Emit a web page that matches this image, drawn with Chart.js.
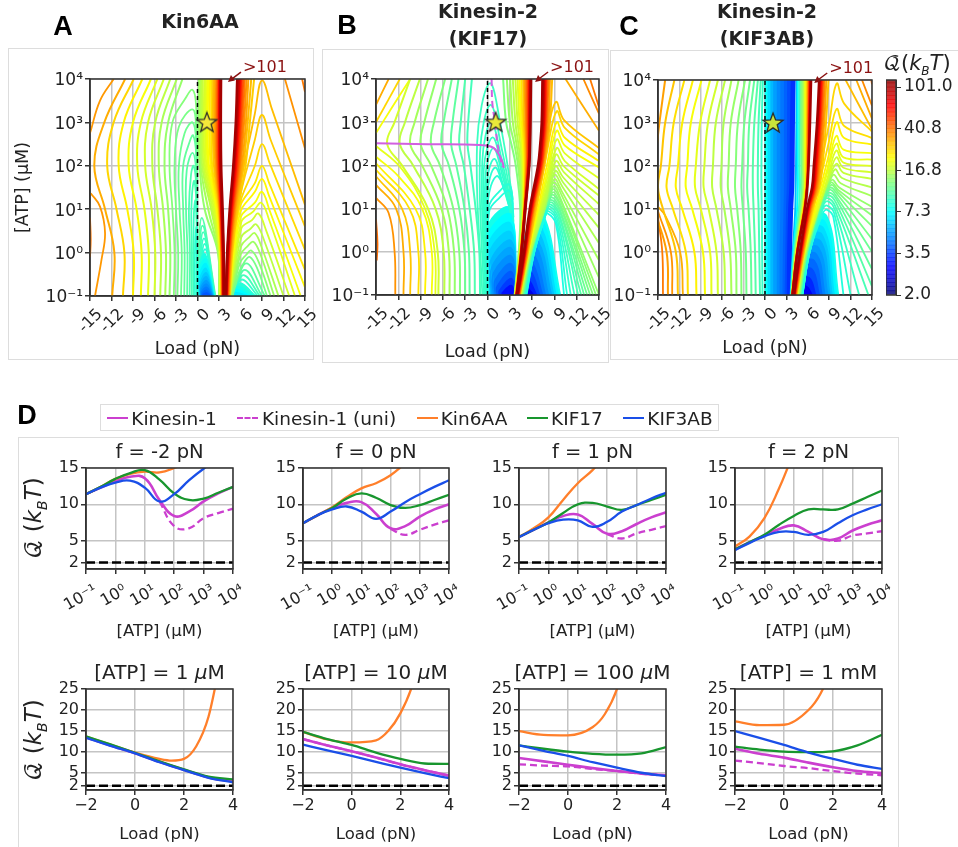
<!DOCTYPE html>
<html>
<head>
<meta charset="utf-8">
<script src="https://cdn.jsdelivr.net/npm/chart.js@4"></script>
<style>
  html, body { margin: 0; background: #fff; }
  #page { position: relative; width: 958px; height: 847px; overflow: hidden; font-family: "DejaVu Sans"; color: #222; filter: blur(0.45px); }
  #page canvas { position: absolute; }
  .txt { position: absolute; transform: translate(-50%, -50%); white-space: nowrap; }
  .box { position: absolute; border: 1px solid #ddd; box-sizing: border-box; }
  .sw { position: absolute; height: 0; width: 21px; }
</style>
</head>
<body>
<div id="page"></div>
<script>
// colorbar
const cbLevels = [2.0,2.1,2.25,2.4,2.55,2.7,2.85,3.0,3.15,3.3, 3.5,3.8,4.1,4.4,4.7,5.0,5.4,5.9,6.3,6.8,
  7.3,7.9,8.5,9.2,10,10.8,11.6,12.6,13.6,15.2, 16.8,18.3,20,21.8,23.8,26,28,31,34,37,
  40.8,45,50,55,60,66,72,79,86,93, 101,110];
const cbTickQ = [2.0, 3.5, 7.3, 16.8, 40.8, 101.0];
const cbTickLabels = ['2.0', '3.5', '7.3', '16.8', '40.8', '101.0'];

const loadTicks = [-15,-12,-9,-6,-3,0,3,6,9,12,15];
const atpTicks = [0.1,1,10,100,1000,10000];
const atpTickLabels = ['10\u207B\u00B9','10\u2070','10\u00B9','10\u00B2','10\u00B3','10\u2074'];

// contour maps. waves: [Q, load at each log10(ATP) knot]
// paths: [Q, load, logATP, load, logATP ...]   arches: [Q, left foot, peak load, peak logATP, right foot]
// basins (filled): [Q, left foot, shoulder load, shoulder logATP, peak load, peak logATP, right foot]
const knotsA = [-1,0,1,2,3,4];
const wavesA = [
  [30,-11.9,-11.6,-12.9,-14.4,-13.0,-10.1],[25,-10.4,-10.2,-11.3,-12.6,-11.7,-8.9],[22,-9.0,-8.9,-9.8,-11.0,-10.3,-7.7],
  [20,-7.9,-7.8,-8.5,-9.6,-9.0,-6.5],[18.5,-6.9,-6.8,-7.4,-8.4,-7.9,-5.6],[17,-6.0,-5.9,-6.4,-7.3,-6.9,-4.7],
  [15.5,-5.2,-5.1,-5.6,-6.3,-5.9,-3.8],[14.3,-4.5,-4.4,-4.8,-5.4,-5.0,-2.9],[13.2,-3.9,-3.8,-4.1,-4.6,-4.1,-2.1],
  [13,3.0,2.85,1.0,.3,.2,.2],[14,3.05,2.9,1.5,.45,.35,.35],[15,3.1,3.0,1.9,.65,.5,.5],[16,3.15,3.05,2.1,.85,.7,.7],
  [17,3.2,3.1,2.3,1.05,.9,.95],[18,3.22,3.13,2.5,1.25,1.1,1.15],[19,3.25,3.17,2.6,1.45,1.3,1.35],[20,3.28,3.2,2.7,1.6,1.45,1.5],
  [22,3.3,3.23,2.8,1.85,1.7,1.75],[24,3.33,3.25,2.9,2.05,1.95,2.0],[27,3.36,3.28,3.0,2.3,2.15,2.2],[30,3.4,3.32,3.05,2.5,2.35,2.4],
  [34,3.43,3.35,3.1,2.65,2.55,2.6],[38,3.46,3.38,3.15,2.75,2.7,2.75],[44,3.5,3.42,3.2,2.85,2.8,2.85],[50,3.53,3.45,3.25,2.95,2.9,2.95],
  [60,3.57,3.5,3.3,3.05,3.0,3.02],[72,3.6,3.55,3.35,3.1,3.08,3.1],[85,3.65,3.6,3.4,3.2,3.15,3.18],[100,3.7,3.65,3.5,3.3,3.25,3.28],
  [26,4.5,4.85,5.6,6.7,7.3,7.9],[28,4.4,4.75,5.45,6.4,7.0,7.5],[31,4.35,4.7,5.3,6.2,6.75,7.1],[34,4.3,4.6,5.2,6.0,6.5,6.85],
  [38,4.25,4.55,5.1,5.85,6.3,6.6],[44,4.2,4.5,5.0,5.7,6.1,6.4],[50,4.15,4.4,4.9,5.55,5.95,6.2],[60,4.1,4.35,4.8,5.4,5.8,6.05],
  [72,4.05,4.3,4.7,5.25,5.65,5.9],[85,4.0,4.2,4.6,5.1,5.5,5.75],[100,3.95,4.15,4.5,5.0,5.35,5.55]
];
const pathsA = [
  [33,-14.3,-1,-13.4,-.17,-12.9,.45,-13.6,1.06,-14.9,1.37],[33,-15,2.75,-13.6,3.5,-11.7,4],[38,-15,-.1,-14.9,.3,-15,.8],
  [12.2,-3.3,-1,-3.2,0,-3.5,1,-3.9,2,-3.5,3,-1.7,3.55,-.7,3.75,-.2,3.4,-.08,2,-.05,-1],
  [11.6,-2.8,-1,-2.7,0,-3.0,1,-3.2,2,-2.6,2.9,-.7,3.3,-.2,2.9,-.08,1,-.05,-1],
  [11.1,-2.3,-1,-2.2,0,-2.5,1,-2.6,2,-1.8,2.75,-.7,3.0,-.2,2.6,-.08,1,-.05,-1],
  [10.6,-1.85,-1,-1.8,0,-2.0,1,-2.0,2,-1.0,2.6,-.6,2.7,-.2,2.3,-.08,1,-.05,-1],
  [10.2,-1.45,-1,-1.4,0,-1.6,1,-1.5,1.9,-.7,2.3,-.2,1.9,-.07,.8,-.05,-1],
  [9.8,-1.1,-1,-1.05,0,-1.2,1,-.9,1.8,-.55,2.0,-.2,1.6,-.06,.5,-.05,-1],
  [9.4,-.8,-1,-.78,0,-.85,1,-.5,1.65,-.2,1.3,-.06,.3,-.05,-1],
  [9,-.55,-1,-.55,0,-.5,.9,-.3,1.2,-.12,.6,-.05,-1],
  [8.4,-.35,-1,-.35,0,-.2,.6,-.08,0,-.05,-1],
  [28,4.3,-1,5.4,1,8,3.2,9,3.97,10.4,3.3,15,1.1],[26,4.35,-1,5.6,1,8,2.6,9,3.17,10.2,2.6,15,.6],[24.5,4.4,-1,5.7,1,8,2,9,2.5,10.1,2.05,15,.06],
  [23,4.45,-1,5.8,1,8,1.6,9,2,10,1.6,15,-.4],[21.5,4.5,-1,5.9,.9,8,1.4,9,1.7,10,1.3,15,-.8],[20,4.55,-1,6,.8,8,1.15,9,1.4,10,1,14.4,-1],
  [18.5,4.6,-1,6.1,.7,7.8,.95,8.9,1.15,10,.75,13.6,-1],[17,4.65,-1,6.1,.55,7.6,.75,8.5,.9,9.6,.5,12.8,-1],[15.5,4.7,-1,6.1,.35,7.4,.55,8.2,.65,9.3,.28,12,-1],
  [14.5,4.75,-1,6.1,.15,7.2,.35,8,.45,9,.1,11.3,-1],[13.5,4.8,-1,6,-.05,7,.15,7.8,.25,8.8,-.05,10.7,-1],[12.5,4.85,-1,5.9,-.25,6.8,-.05,7.5,.05,8.5,-.2,10.2,-1],
  [11.5,4.9,-1,5.8,-.45,6.6,-.2,7.3,-.1,8.3,-.35,9.7,-1],[34,12.2,4,15,2.4],[38,14.6,4,15,3.7]
];
const archesA = [
  [10,.03,.6,.8,2.5],[9.6,.03,.7,.62,2.45],[9.2,.05,.8,.47,2.42],[8.9,.08,.9,.33,2.4],[8.6,.1,1,.2,2.38],[8.2,.15,1.05,.08,2.35],
  [10.5,4.95,6.8,-.25,9.4],[10,5,6.6,-.4,9],[9.3,5.05,6.4,-.52,8.7],[8.8,5.1,6.2,-.62,8.4]
];
const basinsA = [
  [7.8,.2,.2,-.3,1.1,-.04,2.32],[7.3,.25,.25,-.4,1.15,-.15,2.3],[6.7,.3,.3,-.5,1.2,-.26,2.27],[6.2,.35,.35,-.6,1.2,-.37,2.25],[5.7,.4,.4,-.7,1.25,-.47,2.2],
  [5.3,.45,.45,-.75,1.25,-.56,2.15],[4.9,.5,.5,-.8,1.3,-.65,2.1],[4.6,.55,.55,-.85,1.3,-.73,2.05],[4.3,.6,.6,-.9,1.3,-.8,2],[4,.7,.7,-.93,1.3,-.87,1.9],[3.7,.8,.8,-.96,1.3,-.93,1.8],
  [8.2,5.15,5.2,-.9,6,-.7,8.1],[7.6,5,5.1,-.9,5.8,-.78,7.8],[7,4.9,5,-.9,5.6,-.85,7.4],[6.5,4.85,4.9,-.95,5.4,-.92,7]
];

const knotsB = [-1,0,1,2,2.5,3,4];
const wavesB = [
  [17,-6.6,-6.7,-8,-11.5,-13.5,-12.5,-10.4],[15.5,-5.8,-5.9,-7,-10,-11.8,-11.1,-9.1],[14,-5.1,-5.2,-6.2,-8.8,-10.4,-9.8,-8],
  [13,-4.4,-4.5,-5.4,-7.6,-9,-8.5,-6.9],[12,-3.7,-3.8,-4.6,-6.4,-7.6,-7.2,-5.7],[11,-3,-3.1,-3.8,-5.2,-6.2,-5.9,-4.8],
  [10.4,-2.4,-2.5,-3.1,-4.2,-4.9,-4.7,-3.9],[9.8,-1.7,-1.8,-2.4,-3.2,-3.8,-3.6,-3],[9.3,-1,-1.1,-1.6,-2.3,-2.7,-2.6,-2.1],
  [12,3.65,4.2,4.4,3.8,3.2,2.5,2.1],[13,3.68,4.25,4.55,4.1,3.6,3.0,2.6],[14,3.7,4.3,4.65,4.3,3.9,3.4,3.05],[15,3.72,4.33,4.72,4.5,4.15,3.75,3.4],
  [16.5,3.74,4.36,4.78,4.65,4.4,4.05,3.75],[18,3.76,4.39,4.83,4.78,4.6,4.3,4.05],[20,3.78,4.41,4.87,4.9,4.75,4.5,4.3],[23,3.8,4.43,4.9,5.0,4.9,4.7,4.55],
  [27,3.82,4.45,4.93,5.1,5.05,4.9,4.8],[32,3.84,4.47,4.96,5.2,5.2,5.1,5.0],[38,3.86,4.49,4.98,5.3,5.3,5.25,5.2],[46,3.88,4.51,5.0,5.38,5.42,5.4,5.4],
  [56,3.9,4.53,5.02,5.46,5.52,5.53,5.55],[70,3.92,4.55,5.04,5.52,5.6,5.63,5.67],[85,3.94,4.57,5.07,5.57,5.66,5.7,5.75],[100,3.96,4.6,5.1,5.62,5.72,5.78,5.85],
  [28,4.35,5.45,6.45,7.65,8.05,8.4,8.7],[32,4.3,5.35,6.3,7.5,7.9,8.2,8.4],[38,4.25,5.28,6.2,7.4,7.75,8,8.2],[46,4.2,5.2,6.1,7.3,7.62,7.85,8],
  [56,4.15,5.12,6,7.2,7.5,7.72,7.85],[70,4.1,5.05,5.9,7.08,7.37,7.6,7.7],[85,4.05,4.98,5.8,6.95,7.25,7.45,7.55],[100,4,4.9,5.7,6.8,7.1,7.3,7.4]
];
const pathsB = [
  [40,-14.9,-.2,-14.8,.2,-15,.75],[34,-12.4,-1,-12.5,0,-13.3,.9,-15,1.25],[30,-11.3,-1,-11.3,0,-12.3,1,-15,1.55],[27,-10.4,-1,-10.4,0,-11.5,1,-15,1.75],
  [24,-9.3,-1,-9.3,0,-10.5,1,-15,1.9],[22,-8.4,-1,-8.4,0,-9.7,1,-15,2.05],[20,-7.5,-1,-7.5,0,-8.8,1,-12,1.75,-15,2.2],
  [18.5,-7,-1,-7.1,0,-8.4,1,-11.7,1.95,-15,2.45],
  [30,-15,3.4,-13.3,4],[25,-15,3,-11.8,4],[20,-15,2.75,-13,3.3,-10.4,4],
  [9,-.7,-1,-1.4,2.5,.3,3.9,1.9,2.8,3.4,1.2],[8.9,-.5,-1,-1,2.3,.4,3.4,1.9,2.4,3.35,1.1],[8.8,-.35,-1,-.7,2.1,.5,3,1.95,2.1,3.3,1],
  [8.7,-.25,-1,-.5,1.9,.7,2.65,2,1.9,3.3,.95],[8.6,-.15,-1,-.3,1.7,.8,2.4,2.1,1.7,3.2,.9],[8.5,-.1,-1,-.15,1.5,.9,2.15,2.1,1.55,3.2,.9],
  [8.4,-.05,-1,-.05,1.3,1,1.95,2.2,1.45,3.15,.9],[8.3,.02,-1,.05,1.15,1.2,1.75,2.4,1.4,3.1,.9],[8.2,.05,-1,.15,1,1.6,1.4,3,1.55,3.5,.8],
  [8,.1,-1,.2,.9,1.6,1.25,3,1.4,3.5,.7],
  [27,4.4,-1,5.5,0,7.9,2.6,9.2,3.47,10.3,3.05,15,2.4],[25,4.45,-1,5.6,0,8,2.3,9.3,3.25,10.4,2.87,15,2.25],[22,4.5,-1,5.65,0,8.1,2.1,9.3,3,10.4,2.64,15,2.1],
  [20,4.55,-1,5.7,0,8.1,1.9,9.3,2.8,10.4,2.46,15,1.95],[18,4.6,-1,5.75,0,8.1,1.75,9.3,2.6,10.4,2.28,15,1.7],[17,4.65,-1,5.8,0,8.1,1.6,9.3,2.4,10.4,2.1,15,1.45],
  [16.5,4.67,-1,5.83,0,8.1,1.5,9.2,2.25,10.3,1.97,15,1.3],[16,4.7,-1,5.85,0,8.1,1.45,9.2,2.1,10.3,1.84,15,1.1],[15.5,4.72,-1,5.9,0,8.1,1.35,9.1,1.98,10.2,1.72,15,.85],
  [15,4.75,-1,5.95,0,8.1,1.25,9.1,1.87,10.2,1.6,15,.55],[14.5,4.78,-1,6,0,8.1,1.2,9,1.78,10.1,1.5,15,.2],[14,4.8,-1,6.05,0,8.05,1.15,9,1.68,10,1.4,15,-.2],
  [13.5,4.82,-1,6.05,0,8,1.1,8.9,1.6,10,1.3,15,-.6],[13,4.85,-1,6.1,0,8,1.05,8.9,1.52,9.9,1.2,15,-1],[12.5,4.9,-1,6.1,0,8,1,8.8,1.45,9.9,1.15,14.6,-1],
  [12,4.9,-1,6.1,0,8,.98,8.8,1.38,9.8,1.1,14.2,-1],[11.5,4.92,-1,6.1,0,8,.96,8.7,1.32,9.8,1.05,13.8,-1],[11,4.95,-1,6.15,0,7.9,.94,8.6,1.26,9.7,1,13.4,-1],
  [10.5,4.97,-1,6.15,0,7.9,.92,8.5,1.2,9.7,.95,13,-1],[10,5,-1,6.2,0,7.9,.9,8.5,1.15,9.6,.9,12.6,-1],[9.5,5.05,-1,6.2,0,7.8,.88,8.4,1.1,9.6,.85,12.2,-1],
  [9,5.1,-1,6.25,0,7.8,.86,8.3,1.05,9.5,.8,11.7,-1],[8.6,5.15,-1,6.3,0,7.8,.84,8.2,1,9.4,.75,11.2,-1],[8.2,5.2,-1,6.3,0,7.7,.82,8.1,.95,9.3,.7,10.7,-1],[7.8,5.25,-1,6.3,0,7.7,.8,8,.9,9.2,.65,10.3,-1],
  [38,13.8,4,15,3.35],[35,12.9,4,15,3.2],[30,10.5,4,15,2.8]
];
const basinsB = [
  [7.6,.1,.1,.6,3,1,3.9],[7,.15,.15,.4,3.1,.85,3.88],[6.4,.2,.2,.2,3.1,.65,3.86],[5.9,.3,.3,0,3.15,.45,3.84],[5.4,.45,.45,-.2,3.2,.25,3.82],[5,.6,.6,-.35,3.2,.08,3.8],
  [4.6,.8,.8,-.5,3.2,-.1,3.78],[4.2,1.05,1.05,-.65,3.2,-.28,3.76],[3.8,1.3,1.3,-.8,3.2,-.46,3.74],[3.4,1.6,1.6,-.9,3.2,-.62,3.72],[3,2,2,-.95,3.2,-.78,3.7],
  [7.4,4.3,5.4,.6,7.5,.85,9.8],[6.8,4.3,5.3,.5,7.4,.72,9.5],[6.2,4.25,5.2,.38,7.2,.58,9.2],[5.6,4.25,5.1,.22,7,.42,8.9],[5.1,4.2,5,.08,6.8,.25,8.6],[4.7,4.2,4.9,-.05,6.6,.1,8.2],
  [4.3,4.15,4.8,-.2,6.3,-.08,7.8],[3.9,4.15,4.7,-.35,6,-.25,7.4],[3.5,4.1,4.6,-.5,5.8,-.45,7],[3.1,4.1,4.5,-.7,5.5,-.65,6.6],[2.7,4.1,4.4,-.85,5.2,-.82,6.2]
];
// kinesin-1 stall and optimal-velocity curves on panel B
const stallLoad = [-15,-8,-1,.76,1.9,2.2];
const stallLogAtp = [2.51,2.49,2.47,2.41,2.13,1.94];
const uniLoad = [.55,.65,1,1.4,2];
const uniLogAtp = [4,3.44,3,2.43,1.97];

const knotsC = [-1,0,1,1.5,2,3,4];
const wavesC = [
  [32,-13.6,-13.8,-15.5,-16,-15.5,-14.8,-14],[27,-12.2,-12.5,-14.3,-15,-14.6,-14,-12.7],[24,-10.8,-11.1,-12.9,-13.8,-13.4,-12.8,-11.3],
  [22,-9.6,-9.9,-11.6,-12.5,-12.2,-11.6,-10.1],[20,-8.4,-8.7,-10.2,-11.1,-10.9,-10.4,-8.9],[18.5,-7.5,-7.7,-9,-9.8,-9.7,-9.1,-7.7],
  [17,-6.6,-6.8,-7.9,-8.6,-8.5,-8,-6.6],[15.5,-5.6,-5.8,-6.8,-7.4,-7.3,-6.9,-5.6],[14.3,-4.7,-4.9,-5.7,-6.2,-6.1,-5.8,-4.7],
  [13.2,-4,-4.1,-4.8,-5.2,-5.1,-4.8,-3.7],[12.3,-3.3,-3.4,-3.9,-4.2,-4.1,-3.8,-2.8],[11.4,-2.6,-2.7,-3.1,-3.3,-3.2,-2.9,-2.1],
  [10.6,-1.9,-2,-2.3,-2.5,-2.4,-2.2,-1.5],[10,-1.3,-1.4,-1.6,-1.7,-1.7,-1.5,-1],[9.4,-.7,-.8,-.9,-1,-1,-.9,-.6],[8.8,-.35,-.4,-.45,-.5,-.5,-.45,-.3],
  [5.5,3.6,3.9,4.25,4.3,4.35,4.4,4.45],[7,3.65,4,4.5,4.6,4.6,4.6,4.6],[9,3.7,4.1,4.75,4.9,4.85,4.85,4.85],[11,3.72,4.2,4.95,5.15,5.1,5.05,5.05],
  [13,3.74,4.27,5.1,5.35,5.3,5.25,5.25],[15,3.76,4.33,5.2,5.5,5.45,5.45,5.45],[18,3.78,4.38,5.3,5.6,5.6,5.6,5.62],[22,3.8,4.42,5.38,5.7,5.75,5.77,5.8],
  [28,3.81,4.46,5.45,5.78,5.85,5.9,5.95],[36,3.82,4.49,5.5,5.84,5.95,6.02,6.08],[50,3.83,4.51,5.54,5.88,6.02,6.13,6.2],[70,3.84,4.53,5.57,5.9,6.07,6.22,6.32],[100,3.85,4.55,5.6,5.92,6.1,6.3,6.45],
  [27,4.42,5.45,6.65,7.6,8.05,8.55,8.9],[31,4.36,5.36,6.52,7.4,7.8,8.3,8.6],[36,4.3,5.28,6.4,7.25,7.6,8.1,8.35],[43,4.25,5.2,6.3,7.1,7.45,7.9,8.15],
  [52,4.2,5.12,6.2,6.97,7.3,7.75,8],[65,4.15,5.05,6.1,6.85,7.15,7.6,7.85],[80,4.1,4.98,6,6.72,7,7.45,7.72],[100,4.05,4.9,5.9,6.6,6.85,7.3,7.6]
];
const bandsC = [
  [7.2,.3,.3,.3,.3,.3,.3,.3],[6.2,.7,.7,.7,.7,.7,.7,.7],[5.4,1.1,1.1,1.1,1.1,1.1,1.1,1.1],[4.9,1.5,1.5,1.5,1.5,1.5,1.5,1.5],[4.5,2,2,2,2,2,2,2],
  [4.2,2.4,2.4,2.5,2.5,2.5,2.5,2.5],[3.9,2.8,2.85,2.95,3,3,3,3],[3.6,3.1,3.2,3.3,3.4,3.4,3.45,3.45],[3.3,3.4,3.45,3.6,3.75,3.8,3.85,3.95]
];
const pathsC = [
  [38,-14.3,-1,-14.4,0,-15,.8],[34,-13,-1,-13.2,0,-15,.95],[30,-11.5,-1,-11.9,0,-14,.85,-15,1.05],
  [25,4.45,-1,5.5,0,9,3,10.05,3.92,11.1,3.45,15,2.8],[24,4.5,-1,5.55,0,9,2.6,10.05,3.33,11.1,2.93,15,2.65],[22,4.55,-1,5.6,0,9,2.3,10.05,3.02,11.1,2.65,15,2.5],
  [20,4.6,-1,5.65,0,9,2.1,10,2.7,11,2.38,15,2.3],[19,4.65,-1,5.7,0,8.9,1.95,10,2.52,11,2.2,15,2.15],[18,4.7,-1,5.75,0,8.9,1.8,10,2.36,11,2.08,15,2],
  [17,4.75,-1,5.8,0,8.9,1.7,10,2.2,11,1.96,15,1.85],[16,4.8,-1,5.85,0,8.8,1.6,10,2.05,11,1.84,15,1.7],[15,4.85,-1,5.9,0,8.8,1.5,9.8,1.92,10.8,1.72,15,1.5],
  [14,4.9,-1,5.95,0,8.7,1.45,9.6,1.8,10.6,1.6,15,1.3],[13,4.95,-1,6,0,8.6,1.4,9.4,1.68,10.4,1.5,15,1.05],[12.5,5,-1,6.05,0,8.5,1.35,9.3,1.62,10.3,1.44,15,.85],
  [12,5.02,-1,6.05,0,8.5,1.32,9.3,1.56,10.3,1.38,15,.6],[11.5,5.05,-1,6.1,0,8.4,1.3,9.2,1.5,10.2,1.33,15,.3],[11,5.08,-1,6.1,0,8.4,1.25,9.1,1.45,10.1,1.27,15,0],
  [10.5,5.1,-1,6.15,0,8.3,1.2,9,1.38,10.1,1.2,15,-.4],[10,5.15,-1,6.2,0,8.2,1.15,8.9,1.32,10,1.13,15,-.8],[9.5,5.2,-1,6.25,0,8.1,1.1,8.8,1.25,9.9,1.05,14.5,-1],
  [9,5.22,-1,6.25,0,8.1,1.05,8.8,1.18,9.8,.98,13.2,-1],[8.5,5.24,-1,6.25,0,8.1,1,8.7,1.08,9.7,.9,12,-1],[8,5.25,-1,6.25,0,8.1,.9,8.7,.98,9.6,.8,11,-1],
  [28,11.3,4,15,2.85],[30,12.8,4,15,3.1],[35,13.6,4,15,3.4],[40,14.9,4,15,3.9]
];
const basinsC = [
  [7.4,4.4,5.5,.6,8.6,.85,10.3],[6.8,4.4,5.4,.5,8.4,.7,10],[6.2,4.35,5.3,.4,8.2,.55,9.7],[5.7,4.35,5.2,.25,8,.4,9.4],[5.2,4.3,5.1,.1,7.8,.25,9.1],[4.8,4.3,5,-.05,7.5,.1,8.8],
  [4.4,4.25,4.9,-.2,7.2,-.05,8.4],[4,4.25,4.8,-.35,6.9,-.2,8],[3.6,4.2,4.7,-.5,6.6,-.4,7.6],[3.2,4.2,4.55,-.7,6.2,-.6,7.1],[2.8,4.15,4.45,-.85,5.8,-.8,6.6]
];

// panel D, top row: Q against log10(ATP), one list per load
const atpLog = [-1,-.5,0,.5,1,1.5,2,2.5,3,3.5,4];
const forceTitles = ['f = -2 pN','f = 0 pN','f = 1 pN','f = 2 pN'];
const kin1ByForce = [
  [11.4,12.3,13.2,13.8,13.6,10.6,8.4,9,10.4,11.5,12.4],[7.4,8.5,9.5,10.2,10.3,8.7,6.7,7,8.3,9.3,10],
  [5.5,6.5,7.5,8.4,8.6,7.3,5.95,6.3,7.3,8.2,8.9],[3.8,4.8,5.7,6.6,7.1,6.2,5.2,5.3,6.4,7.2,7.8]
];
const uniByForce = [
  [null,null,null,null,null,10.4,7,6.7,8.1,8.8,9.4],[null,null,null,null,null,null,6.6,5.8,6.5,7.2,7.8],
  [null,null,null,null,null,null,5.9,5.3,6,6.5,7],[null,null,null,null,null,null,5.2,5,5.7,6,6.3]
];
const kin6ByForce = [
  [11.4,12.4,13.5,14.2,14.5,14.4,15,15.9,17,18,19],[7.4,8.5,9.6,11,12.2,12.9,14,15.6,17,18,19],
  [5.5,6.7,8.2,10.6,12.9,14.7,17,19,21,23,25],[4.2,5.6,8.1,12.2,17,21,25,29,33,37,41]
];
const kif17ByForce = [
  [11.4,12.4,13.5,14.3,14.7,13.4,11.5,10.6,10.8,11.6,12.4],[7.4,8.5,9.5,10.8,11.5,10.9,9.9,9.5,9.9,10.6,11.3],
  [5.5,6.5,7.5,8.8,10,10.2,9.7,9.25,9.9,10.6,11.3],[3.8,4.8,5.8,7.2,8.4,9.3,9.3,9.3,10.1,11,11.9]
];
const kif3abByForce = [
  [11.4,12.3,13,13.25,12.3,10.4,11.4,13.3,14.9,16.2,17.5],[7.4,8.5,9.3,9.7,9,8,9,10.3,11.4,12.4,13.3],
  [5.5,6.5,7.4,7.9,7.8,6.9,7.6,9,9.9,10.8,11.6],[3.7,4.7,5.6,6.2,6.2,5.8,6.2,7.4,8.5,9.3,10]
];

// panel D, bottom row: Q against load, one list per ATP
const loadKnots = [-2,-1,0,1,2,3,4];
const kin6Loads = [-2,-1,0,1,1.5,2,2.5,3,3.5];
const atpTitles = ['[ATP] = 1 <i>\u03BC</i>M','[ATP] = 10 <i>\u03BC</i>M','[ATP] = 100 <i>\u03BC</i>M','[ATP] = 1 mM'];
const kin1ByAtp = [[13.5,11.6,9.75,7.7,5.8,4,3],[13.1,11.6,10.2,8.7,7.1,5.7,4.4],[8.6,7.8,7,6.2,5.5,4.9,4.5],[10.8,9.6,8.7,7.5,6.4,5.5,5]];
const uniByAtp = [[13.5,11.6,9.75,7.7,5.8,4,3],[13.1,11.6,10.2,8.7,7.1,5.7,4.4],[7.1,6.8,6.6,6,5.5,4.9,4.4],[8,7.4,6.7,6.2,5.5,4.9,4.5]];
const kin6ByAtp = [[13.7,11.8,9.9,8.4,8,8.4,11.4,18.4,32],[14.8,13,12.3,12.8,15,19.2,26,38,55],[15,14.1,14,15.9,19,25,36,50,70],[17.3,16.4,16.5,20,24,31,42,60,80]];
const kif17ByAtp = [[13.75,11.85,9.85,7.8,5.9,4.2,3.5],[14.8,13.1,11.7,9.9,8.4,7.3,7.2],[11.6,10.8,10.1,9.6,9.4,9.7,11.2],[11.3,10.6,10.1,10,10.2,11.6,14.1]];
const kif3abByAtp = [[13.4,11.5,9.7,7.6,5.7,3.9,2.8],[11.8,10.4,9.1,7.7,6.3,5,3.8],[11.6,10.3,9.1,7.6,6.3,5.1,4.3],[15,13.4,11.7,9.9,8.4,7,6]];

const MAGENTA = '#cb3fcf', ORANGE = '#ff7f2a', GREEN = '#18962e', BLUE = '#1a4fe8';
const INK = '#222', GRID = '#c4c4c4';
const page = document.getElementById('page');

function jet(t, a) {
  const c = v => Math.round(255 * Math.min(1, Math.max(0, v)));
  return `rgba(${c(1.5 - Math.abs(4 * t - 3))},${c(1.5 - Math.abs(4 * t - 2))},${c(1.5 - Math.abs(4 * t - 1))},${a || 1})`;
}
// Q value to colour, through the colorbar tick positions
function qColor(q, a) {
  let i = 0;
  while (i < cbTickQ.length - 2 && q > cbTickQ[i + 1]) i++;
  const f = Math.log(q / cbTickQ[i]) / Math.log(cbTickQ[i + 1] / cbTickQ[i]);
  return jet(Math.min(1, (i + f) * 0.193), a);
}

function label(html, x, y, css) {
  const d = document.createElement('div');
  d.className = 'txt';
  d.innerHTML = html;
  d.style.left = x + 'px';
  d.style.top = y + 'px';
  d.style.cssText += css || '';
  page.appendChild(d);
  return d;
}
function box(x, y, w, h) {
  const d = document.createElement('div');
  d.className = 'box';
  d.style.cssText = `left:${x}px;top:${y}px;width:${w}px;height:${h}px`;
  page.appendChild(d);
}

// a canvas placed so the plot area lands on left/top/right/bottom of the page
function plotCanvas(area, m) {
  const c = document.createElement('canvas');
  const w = area.right - area.left + m.left + m.right, h = area.bottom - area.top + m.top + m.bottom;
  c.width = w; c.height = h;
  c.style.cssText = `left:${area.left - m.left}px;top:${area.top - m.top}px;width:${w}px;height:${h}px`;
  page.appendChild(c);
  return c;
}

const framePlugin = {
  id: 'frame',
  afterDatasetsDraw(chart) {
    const a = chart.chartArea, ctx = chart.ctx;
    ctx.save();
    ctx.strokeStyle = '#333';
    ctx.lineWidth = 1.5;
    ctx.strokeRect(a.left, a.top, a.right - a.left, a.bottom - a.top);
    ctx.restore();
  }
};
function arrowPlugin(tipLoad, tipLog) {
  return {
    id: 'over101',
    afterDraw(chart) {
      const ctx = chart.ctx;
      const tx = chart.scales.x.getPixelForValue(tipLoad), ty = chart.scales.y.getPixelForValue(Math.pow(10, tipLog));
      ctx.save();
      ctx.strokeStyle = ctx.fillStyle = '#8b1212';
      ctx.lineWidth = 1.5;
      ctx.beginPath(); ctx.moveTo(tx + 13, ty - 10); ctx.lineTo(tx + 3, ty - 2.5); ctx.stroke();
      ctx.beginPath(); ctx.moveTo(tx, ty); ctx.lineTo(tx + 7, ty - 1.5); ctx.lineTo(tx + 3, ty - 7); ctx.fill();
      ctx.font = '16px "DejaVu Sans"';
      ctx.textBaseline = 'middle';
      ctx.fillText('>101', tx + 15, ty - 14);
      ctx.restore();
    }
  };
}

function starImage(fill) {
  const c = document.createElement('canvas');
  c.width = c.height = 24;
  const ctx = c.getContext('2d');
  ctx.beginPath();
  for (let i = 0; i < 10; i++) {
    const r = i % 2 ? 4.4 : 10.5, a = -Math.PI / 2 + i * Math.PI / 5;
    ctx.lineTo(12 + r * Math.cos(a), 12.5 + r * Math.sin(a));
  }
  ctx.closePath();
  ctx.fillStyle = fill;
  ctx.fill();
  ctx.lineWidth = 1.3;
  ctx.strokeStyle = '#2a2a2a';
  ctx.stroke();
  return c;
}

const toPts = (xs, logs) => xs.map((x, i) => ({ x: x, y: Math.pow(10, logs[i]) }));
function contour(q, pts, width, filled) {
  const d = { data: pts, showLine: true, pointRadius: 0, tension: 0.4, borderColor: qColor(q), borderWidth: width || 1.8 };
  if (filled) { d.fill = 'start'; d.backgroundColor = qColor(q); }
  return d;
}
const fromWave = (knots, row, w) => contour(row[0], toPts(row.slice(1), knots), w);
function fromPath(row, w) {
  const pts = [];
  for (let i = 1; i < row.length; i += 2) pts.push({ x: row[i], y: Math.pow(10, row[i + 1]) });
  return contour(row[0], pts, w);
}
const fromArch = (row, w) => contour(row[0], toPts([row[1], row[2], row[4]], [-1, row[3], -1]), w);
const fromBasin = (row, w) => contour(row[0], toPts([row[1], row[2], row[4], row[6]], [-1, row[3], row[5], -1]), w, true);

function mapPanel(p) {
  const datasets = [];
  (p.bands || []).forEach(r => datasets.push(fromWave(p.knots, r, 5)));
  (p.arches || []).forEach(r => datasets.push(fromArch(r, 1.8)));
  (p.basins || []).forEach(r => datasets.push(fromBasin(r, 1.5)));
  p.paths.forEach(r => datasets.push(fromPath(r)));
  p.waves.forEach(r => datasets.push(fromWave(p.knots, r, r[0] >= 85 ? 2.6 : 2)));
  (p.extra || []).forEach(d => datasets.push(d));
  datasets.push({ data: toPts([0, 0], [-1, 4]), showLine: true, pointRadius: 0, borderColor: '#000', borderWidth: 1.5, borderDash: [4, 3] });
  datasets.push({ data: [{ x: p.star, y: 1000 }], showLine: false, pointStyle: starImage(p.starFill), pointRadius: 12 });
  datasets.forEach((d, i) => { d.order = -i; });
  const m = { left: p.yTitle ? 77 : 62, right: 30, top: 31, bottom: p.xH };
  new Chart(plotCanvas(p.area, m), {
    type: 'scatter',
    data: { datasets },
    options: {
      responsive: false, animation: false,
      layout: { autoPadding: false, padding: { top: m.top, right: m.right } },
      elements: { line: { capBezierPoints: false } },
      plugins: { legend: { display: false }, tooltip: { enabled: false } },
      scales: {
        x: {
          type: 'linear', min: -15, max: 15,
          afterBuildTicks(s) { s.ticks = loadTicks.map(v => ({ value: v })); },
          afterFit(s) { s.height = m.bottom; },
          grid: { color: GRID, lineWidth: 1.5, tickLength: 5, tickColor: '#333', z: 0 },
          border: { color: '#333', width: 1.5 },
          ticks: { autoSkip: false, minRotation: 45, maxRotation: 45, labelOffset: 10, padding: 4, color: INK, font: { size: 16, family: 'DejaVu Sans' }, callback: (v, i) => String(loadTicks[i]) },
          title: { display: true, text: 'Load (pN)', color: INK, padding: 0, font: { size: 17.5, family: 'DejaVu Sans' } }
        },
        y: {
          type: 'logarithmic', min: 0.1, max: 10000,
          afterBuildTicks(s) { s.ticks = atpTicks.map(v => ({ value: v })); },
          afterFit(s) { s.width = m.left; },
          grid: { color: GRID, lineWidth: 1.5, tickLength: 5, tickColor: '#333' },
          border: { color: '#333', width: 1.5 },
          ticks: { autoSkip: false, padding: 2, labelOffset: 2, color: INK, font: { size: 17, family: 'DejaVu Sans' }, callback: (v, i) => atpTickLabels[i] },
          title: { display: !!p.yTitle, text: '[ATP] (\u03BCM)', color: INK, padding: 0, font: { size: 17.5, family: 'DejaVu Sans' } }
        }
      }
    },
    plugins: [framePlugin, arrowPlugin(p.tip, 3.93)]
  });
}

function curvePanel(area, title, titleY, series, o) {
  const datasets = series.map((s, i) => ({
    label: s.name, data: s.xs.map((x, j) => ({ x: x, y: s.ys[j] })), showLine: true, pointRadius: 0,
    tension: o.monotone ? 0 : 0.45, cubicInterpolationMode: o.monotone ? 'monotone' : 'default',
    borderColor: s.color, borderWidth: s.width || 2.3, borderDash: s.dash, order: -i
  }));
  const dashXs = o.xRange;
  datasets.push({ data: [{ x: dashXs[0], y: 2 }, { x: dashXs[1], y: 2 }], showLine: true, pointRadius: 0, borderColor: '#000', borderWidth: 2.4, borderDash: [9, 4], order: -9 });
  const m = { left: 60, right: 24, top: 12, bottom: o.xH };
  new Chart(plotCanvas(area, m), {
    type: 'scatter',
    data: { datasets },
    options: {
      responsive: false, animation: false,
      layout: { autoPadding: false, padding: { top: m.top, right: m.right } },
      elements: { line: { capBezierPoints: false } },
      plugins: { legend: { display: false }, tooltip: { enabled: false } },
      scales: {
        x: {
          type: o.xLog ? 'logarithmic' : 'linear', min: o.xRange[0], max: o.xRange[1],
          afterBuildTicks(s) { s.ticks = o.xTicks.map(v => ({ value: v })); },
          afterFit(s) { s.height = m.bottom; },
          grid: { color: GRID, lineWidth: 1.5, tickLength: 5, tickColor: '#333' },
          border: { color: '#333', width: 1.5 },
          ticks: { autoSkip: false, minRotation: o.rot, maxRotation: o.rot, labelOffset: o.rot ? 10 : 0, padding: o.rot ? 7 : 1, color: INK, font: { size: o.xFont, family: 'DejaVu Sans' }, callback: (v, i) => o.xLabels[i] },
          title: { display: true, text: o.xTitle, color: INK, padding: 0, font: { size: 16.5, family: 'DejaVu Sans' } }
        },
        y: {
          type: 'linear', min: o.yMin, max: o.yMax,
          afterBuildTicks(s) { s.ticks = o.yTicks.map(v => ({ value: v })); },
          afterFit(s) { s.width = m.left; },
          grid: { color: GRID, lineWidth: 1.5, tickLength: 5, tickColor: '#333' },
          border: { color: '#333', width: 1.5 },
          ticks: { autoSkip: false, padding: 2, color: INK, font: { size: 16, family: 'DejaVu Sans' }, callback: v => String(v) }
        }
      }
    },
    plugins: [framePlugin]
  });
  label(title, (area.left + area.right) / 2, titleY, 'font-size:' + o.titleFont + 'px');
}

// frames behind everything
box(8, 48, 306, 312);
box(322, 49, 287, 314);
box(610, 50, 349, 310);
box(18, 437, 881, 412);
box(100, 404, 619, 27);

const dejaBold = 'font-family:"DejaVu Sans";font-weight:bold;font-size:19px';
const panelLetter = 'font-family:"Liberation Sans";font-weight:bold;font-size:27px;color:#000';
label('A', 63, 26, panelLetter);
label('B', 347, 25, panelLetter);
label('C', 629, 26, panelLetter);
label('D', 27, 415, panelLetter);
label('Kin6AA', 200, 21, dejaBold);
label('Kinesin-2', 488, 11, dejaBold);
label('(KIF17)', 488, 38, dejaBold);
label('Kinesin-2', 767, 11, dejaBold);
label('(KIF3AB)', 767, 38, dejaBold);

mapPanel({ area: { left: 90, top: 79, right: 305, bottom: 296 }, knots: knotsA, waves: wavesA, paths: pathsA, arches: archesA, basins: basinsA,
  star: 1.3, starFill: '#f5e83a', tip: 4.25, yTitle: true, xH: 64 });
mapPanel({ area: { left: 376, top: 79, right: 599, bottom: 295 }, knots: knotsB, waves: wavesB, paths: pathsB, basins: basinsB,
  extra: [
    { data: toPts(stallLoad, stallLogAtp), showLine: true, pointRadius: 0, tension: 0.4, borderColor: '#d25fe0', borderWidth: 2 },
    { data: toPts(uniLoad, uniLogAtp), showLine: true, pointRadius: 0, tension: 0.4, borderColor: '#d25fe0', borderWidth: 2, borderDash: [7, 4] }
  ],
  star: 1.1, starFill: '#e9e83a', tip: 6.4, xH: 68 });
mapPanel({ area: { left: 658, top: 80, right: 872, bottom: 295 }, knots: knotsC, waves: wavesC, paths: pathsC, basins: basinsC, bands: bandsC,
  star: 1.13, starFill: '#c9e33a', tip: 6.9, xH: 64 });

// colorbar, one stacked slice per contour level
const cbMax = 51.7;
const cbPositions = [0, 10, 20, 30, 40, 50];
new Chart(plotCanvas({ left: 886, top: 80, right: 896, bottom: 295 }, { left: 0, right: 62, top: 14, bottom: 14 }), {
  type: 'bar',
  data: {
    labels: ['Q'],
    datasets: cbLevels.map(q => ({ data: [1], backgroundColor: qColor(q, 0.82), barPercentage: 1, categoryPercentage: 1, stack: 'q' }))
  },
  options: {
    responsive: false, animation: false,
    layout: { autoPadding: false, padding: { top: 14, bottom: 14 } },
    plugins: { legend: { display: false }, tooltip: { enabled: false } },
    scales: {
      x: { display: false, stacked: true },
      y: {
        position: 'right', stacked: true, min: 0, max: cbMax,
        afterBuildTicks(s) { s.ticks = cbPositions.map(v => ({ value: v })); },
        afterFit(s) { s.width = 62; },
        grid: { drawOnChartArea: false, tickLength: 5, tickColor: '#333' },
        border: { color: '#333', width: 1 },
        ticks: { autoSkip: false, padding: 3, color: INK, font: { size: 17, family: 'DejaVu Sans' }, callback: (v, i) => cbTickLabels[i] }
      }
    }
  },
  plugins: [framePlugin]
});
const mathQ = '<span style="font-family:\'DejaVu Math TeX Gyre\',\'DejaVu Serif\',serif">\uD835\uDCAC</span>';
label(mathQ + '(<i>k<sub style="font-size:12px">B</sub>T</i>)', 917, 67, 'font-size:21px;line-height:20px');

// legend
const legendItems = [
  ['Kinesin-1', MAGENTA, 107, 174, false], ['Kinesin-1 (uni)', MAGENTA, 237, 329, true], ['Kin6AA', ORANGE, 417, 474, false],
  ['KIF17', GREEN, 527, 577, false], ['KIF3AB', BLUE, 623, 680, false]
];
legendItems.forEach(([name, color, swX, textX, dashed]) => {
  const s = document.createElement('div');
  s.className = 'sw';
  s.style.cssText = `left:${swX}px;top:417px;border-top:2.4px ${dashed ? 'dashed' : 'solid'} ${color}`;
  page.appendChild(s);
  label(name, textX, 418, 'font-size:18.5px');
});

// panel D
const plotX = [[86, 233], [303, 449], [519, 666], [735, 882]];
const decades = [0.1,1,10,100,1000,10000];
const atpValues = atpLog.map(v => Math.pow(10, v));
plotX.forEach(([left, right], k) => {
  curvePanel({ left, right, top: 468, bottom: 569 }, forceTitles[k], 451, [
    { name: 'Kinesin-1', xs: atpValues, ys: kin1ByForce[k], color: MAGENTA, width: 2.6 },
    { name: 'Kinesin-1 (uni)', xs: atpValues, ys: uniByForce[k], color: MAGENTA, width: 2.3, dash: [7, 4] },
    { name: 'Kin6AA', xs: atpValues, ys: kin6ByForce[k], color: ORANGE },
    { name: 'KIF17', xs: atpValues, ys: kif17ByForce[k], color: GREEN },
    { name: 'KIF3AB', xs: atpValues, ys: kif3abByForce[k], color: BLUE }
  ], { xLog: true, xRange: [0.1, 10000], xTicks: decades, xLabels: atpTickLabels, rot: 30, xFont: 16, xTitle: '[ATP] (\u03BCM)', xH: 73, yMin: 1.1, yMax: 15, yTicks: [2, 5, 10, 15], titleFont: 19.5 });
  curvePanel({ left, right, top: 689, bottom: 790 }, atpTitles[k], 672, [
    { name: 'Kinesin-1', xs: loadKnots, ys: kin1ByAtp[k], color: MAGENTA, width: 2.6 },
    { name: 'Kinesin-1 (uni)', xs: loadKnots, ys: uniByAtp[k], color: MAGENTA, width: 2.3, dash: [7, 4] },
    { name: 'Kin6AA', xs: kin6Loads, ys: kin6ByAtp[k], color: ORANGE },
    { name: 'KIF17', xs: loadKnots, ys: kif17ByAtp[k], color: GREEN },
    { name: 'KIF3AB', xs: loadKnots, ys: kif3abByAtp[k], color: BLUE }
  ], { monotone: true, xRange: [-2, 4], xTicks: [-2, 0, 2, 4], xLabels: ['\u22122', '0', '2', '4'], rot: 0, xFont: 16, xTitle: 'Load (pN)', xH: 55, yMin: 1, yMax: 25, yTicks: [2, 5, 10, 15, 20, 25], titleFont: 20 });
});
const qAxis = mathQ + ' (<i>k<sub style="font-size:14px">B</sub>T</i>)';
label(qAxis, 35, 518, 'font-size:23px;transform:translate(-50%,-50%) rotate(-90deg)');
label(qAxis, 35, 740, 'font-size:23px;transform:translate(-50%,-50%) rotate(-90deg)');
</script>
</body>
</html>
